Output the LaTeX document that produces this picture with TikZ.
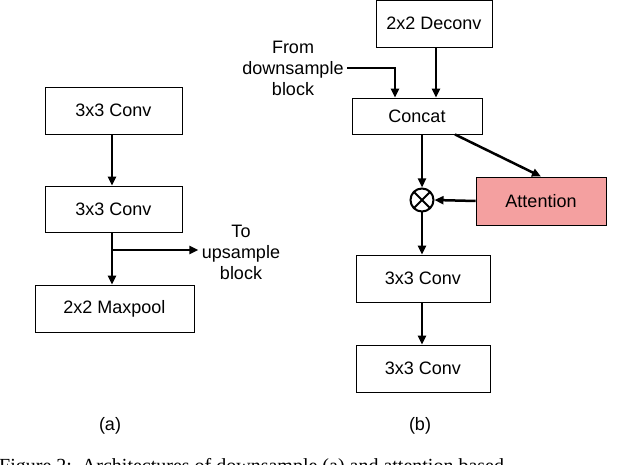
\documentclass[tikz,border=0pt]{standalone}
\usepackage{fontspec}
\setmainfont{Liberation Sans}
\newfontfamily\capfont{Liberation Serif}
\usetikzlibrary{arrows.meta, positioning, calc}
\definecolor{attn}{HTML}{F4A0A0}

\begin{document}
\begin{tikzpicture}[x=1pt, y=-1pt,
  block/.style={draw=black, line width=0.9pt, fill=white, inner sep=0pt, font=\fontsize{18}{21}\selectfont},
  lbl/.style={font=\fontsize{18}{21}\selectfont, align=center},
  arr/.style={-{Triangle[length=9pt, width=8pt]}, line width=2.5pt}
]
  \useasboundingbox (0,0) rectangle (640,465);

  % (a) downsample block
  \node[block, minimum width=137pt, minimum height=47pt] (convA) at (113.5,110.5) {3x3 Conv};
  \node[block, minimum width=137pt, minimum height=46pt] (convB) at (113.5,209) {3x3 Conv};
  \node[block, minimum width=159pt, minimum height=47pt] (pool) at (114.5,308.5) {2x2 Maxpool};
  \coordinate (split) at (112,250);
  \node[lbl] (toup) at (241,252) {To\\upsample\\block};
  \node[lbl] (capa) at (110,426) {(a)};

  \draw[arr] (convA.south -| split) -- (convB.north -| split);
  \draw[arr] (convB.south -| split) -- (pool.north -| split);
  \draw[arr] (split) -- ($(toup.west)+(0,-2)$);

  % (b) attention upsample block
  \node[block, minimum width=116pt, minimum height=47pt] (deconv) at (434,23.5) {2x2 Deconv};
  \node[block, minimum width=130pt, minimum height=36pt] (concat) at (417,116) {Concat};
  \node[block, fill=attn, minimum width=130pt, minimum height=48pt] (attention) at (541,201) {Attention};
  \node[circle, draw=black, line width=2pt, minimum size=23pt, inner sep=0pt] (mult) at (422,200) {};
  \draw[line width=2pt] ($(mult)+(-8,-8)$) -- ($(mult)+(8,8)$)
                        ($(mult)+(-8,8)$) -- ($(mult)+(8,-8)$);
  \node[block, minimum width=134pt, minimum height=47pt] (convC) at (423,278.5) {3x3 Conv};
  \node[block, minimum width=134pt, minimum height=47pt] (convD) at (423,368.5) {3x3 Conv};
  \node[lbl] (fromdown) at (293,68) {From\\downsample\\block};
  \node[lbl] (capb) at (420,426) {(b)};

  \draw[arr] (fromdown.east |- 0,68) -| (395,0 |- concat.north);
  \draw[arr] (deconv.south -| 436,0) -- (concat.north -| 436,0);
  \draw[arr] (concat.south -| mult) -- (mult.north);
  \draw[arr] ($(concat.south)+(38,0)$) -- (attention.north);
  \draw[arr] (attention.west) -- (mult.east);
  \draw[arr] (mult.south) -- (convC.north -| mult);
  \draw[arr] (convC.south -| mult) -- (convD.north -| mult);

  % caption (cut off)
  \node[font=\capfont\fontsize{20}{22}\selectfont, anchor=west, inner sep=0pt] (caption) at (-1,468)
    {Figure 2:\ \ Architectures of downsample (a) and attention based};
\end{tikzpicture}
\end{document}
